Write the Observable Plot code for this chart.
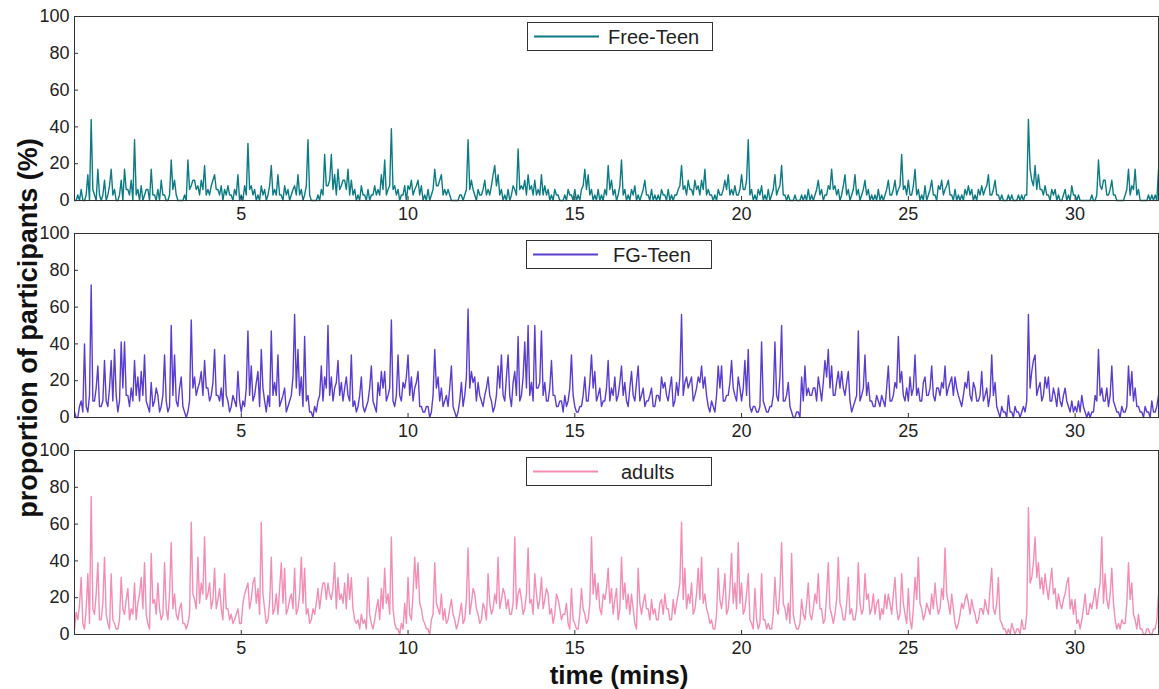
<!DOCTYPE html>
<html>
<head>
<meta charset="utf-8">
<script src="https://cdn.jsdelivr.net/npm/d3@7"></script>
<script src="https://cdn.jsdelivr.net/npm/@observablehq/plot@0.6"></script>
<style>
html,body{margin:0;padding:0;background:#fff;}
#chart{position:relative;width:1159px;height:689px;overflow:hidden;font-family:"Liberation Sans",Arial,sans-serif;color:#222;}
.panel{position:absolute;left:0;}
.legend{position:absolute;box-sizing:border-box;border:1px solid #333;background:#fff;height:29px;width:186px;}
.legend svg{position:absolute;left:0;top:0;}
.legend span{position:absolute;top:2px;font-size:20px;line-height:24px;color:#222;}
.ytitle{position:absolute;left:28px;top:328px;line-height:1;transform:translate(-50%,-50%) rotate(-90deg);font-weight:bold;font-size:27px;white-space:nowrap;color:#111;}
.xtitle{position:absolute;left:619px;top:675px;line-height:1;transform:translate(-50%,-50%);font-weight:bold;font-size:26px;white-space:nowrap;color:#111;}
</style>
</head>
<body>
<div id="chart"></div>
<script>
// time step between samples (minutes)
const timeStep = 0.05;
const xDomain = [0, 32.5];
const xTicks = [5, 10, 15, 20, 25, 30];
const yTicks = [0, 20, 40, 60, 80, 100];
const seriesNames = ["Free-Teen", "FG-Teen", "adults"];
const seriesColors = ["#0c7b84", "#5a3dcf", "#f48db4"];

const freeTeen = [
 0,0,3,0,6,0,0,3,14,0,44,6,3,0,17,3,0,3,11,0,
 3,8,17,3,6,0,0,3,11,0,17,6,6,3,11,0,33,3,6,0,
 8,0,3,6,6,0,17,3,3,0,6,0,11,3,3,0,0,3,22,6,
 11,3,0,0,0,0,3,0,22,6,8,11,11,6,8,3,11,6,19,3,
 6,3,8,11,14,6,6,3,8,0,6,3,8,3,3,0,6,3,14,0,
 3,0,8,3,31,6,8,3,6,0,3,0,8,3,6,0,3,8,19,3,
 6,3,14,3,3,0,8,3,6,0,3,6,8,3,14,3,6,0,3,8,
 33,3,0,0,0,0,3,0,6,3,25,8,8,11,25,6,14,3,17,6,
 8,11,11,6,17,3,11,3,6,0,3,0,8,3,3,0,6,0,3,3,
 8,3,6,3,14,6,22,3,6,8,39,6,8,3,6,0,3,3,8,0,
 8,6,11,3,6,8,11,3,8,0,3,0,6,0,3,6,17,8,8,11,
 14,3,6,3,6,3,0,0,0,0,0,3,3,0,3,6,33,6,11,6,
 3,0,6,3,3,6,11,3,6,3,8,14,19,8,14,3,6,0,3,0,
 6,0,3,8,6,3,28,6,8,6,11,3,14,6,8,3,11,3,6,3,
 14,3,8,3,6,0,3,0,6,3,3,0,0,0,3,0,6,3,3,0,
 6,0,3,0,6,8,17,6,14,3,6,0,3,0,6,0,3,0,6,3,
 19,6,11,3,6,0,3,8,22,3,6,0,3,0,6,3,8,0,3,0,
 3,6,11,3,3,0,6,0,3,0,3,0,6,3,3,0,6,0,3,0,
 3,3,6,8,19,6,8,3,11,6,6,3,11,6,8,3,11,6,17,3,
 6,3,3,0,3,0,6,3,3,6,11,6,14,3,6,3,8,3,3,6,
 14,6,6,11,33,3,6,0,3,0,6,3,8,0,3,0,6,0,3,6,
 14,3,6,8,19,3,3,0,3,0,0,0,3,0,0,0,3,0,3,0,
 6,0,3,0,3,6,11,3,6,0,3,3,8,6,17,6,8,3,6,0,
 3,8,14,3,6,0,3,6,14,3,6,0,3,6,11,3,6,0,3,0,
 3,0,6,0,3,0,3,6,11,3,3,6,11,3,6,8,25,6,8,3,
 11,3,3,8,17,3,6,0,3,0,8,0,3,6,11,3,3,0,8,6,
 11,3,6,8,11,3,3,0,6,0,3,0,3,0,6,3,8,3,6,0,
 3,0,6,3,8,3,6,8,14,3,3,6,11,3,3,0,3,0,0,0,
 3,0,3,0,0,0,3,0,3,0,3,3,44,17,11,8,19,6,14,6,
 6,3,8,3,3,0,6,3,6,0,3,0,0,3,6,0,3,0,8,3,
 3,0,3,0,0,0,0,0,0,0,3,0,0,3,22,8,6,11,11,3,
 3,6,11,3,3,0,0,0,0,0,3,6,17,3,8,6,17,3,6,0,
 0,0,0,0,3,0,3,0,3,0,17
];

const fgTeen = [
 3,0,0,6,9,3,40,6,3,12,72,9,9,16,28,6,6,9,31,9,
 6,16,31,9,37,12,3,9,41,16,41,12,12,6,16,9,31,12,22,9,
 25,12,34,9,6,3,19,6,9,16,12,3,6,12,34,9,3,6,50,12,
 34,9,6,16,22,6,3,0,3,9,53,16,22,12,16,19,25,12,31,16,
 16,9,12,19,37,12,12,9,16,6,34,12,9,3,6,12,9,6,25,9,
 3,9,6,16,47,12,28,9,12,19,25,6,37,16,9,3,12,6,47,12,
 19,12,34,6,9,12,16,3,6,9,12,22,56,16,37,12,22,6,44,9,
 12,3,3,0,6,3,9,12,28,9,22,16,50,12,22,9,16,19,31,12,
 19,9,16,22,12,9,34,6,9,3,6,12,22,6,3,6,9,16,28,9,
 6,3,19,12,25,16,25,9,12,16,53,9,6,12,34,12,9,19,16,22,
 34,12,22,9,16,19,25,6,6,3,3,6,6,0,3,12,37,16,22,9,
 16,6,9,12,6,16,28,6,3,0,3,9,19,6,12,22,59,16,25,19,
 22,9,19,12,9,6,12,16,22,12,9,3,6,12,28,16,34,12,9,22,
 34,12,6,19,25,12,44,9,12,22,41,16,50,12,19,9,50,16,16,19,
 47,12,19,9,9,16,31,12,12,6,6,9,9,3,12,6,9,16,34,12,
 6,3,3,6,6,12,22,9,9,19,34,16,25,9,12,16,6,9,9,16,
 31,9,16,12,22,9,12,19,28,12,19,9,6,16,25,12,9,19,28,9,
 12,16,6,9,9,12,16,6,6,12,12,9,22,16,19,12,9,16,22,6,
 9,19,12,22,56,12,19,22,16,19,22,9,12,16,22,19,28,16,22,12,
 6,3,9,6,3,12,28,16,28,9,9,12,12,19,31,16,12,9,22,16,
 9,16,31,12,37,6,3,6,6,3,3,6,41,9,6,3,3,6,6,12,
 41,12,9,22,50,9,9,12,19,6,3,0,0,3,3,0,22,9,28,12,
 16,12,12,16,16,9,22,16,9,19,31,22,37,16,28,12,12,19,25,16,
 25,16,12,19,25,9,3,6,9,12,47,9,12,16,34,12,19,9,9,6,
 6,12,9,6,12,9,6,16,28,9,9,12,19,16,44,19,25,12,9,16,
 9,22,12,16,34,12,16,9,9,19,22,12,12,16,28,12,9,16,16,12,
 19,16,28,12,16,19,22,12,22,16,12,9,6,12,19,16,25,12,9,19,
 16,9,9,12,25,9,12,16,6,12,34,12,19,6,3,0,6,3,3,0,
 12,3,3,0,6,3,3,0,3,6,3,9,56,16,25,31,34,12,16,19,
 9,12,22,16,22,9,9,16,12,6,16,9,6,12,16,9,6,3,9,3,
 6,3,9,3,12,6,3,0,3,0,3,3,12,9,37,12,16,9,9,16,
 6,12,28,9,6,3,3,0,6,3,3,6,28,12,25,9,16,6,6,3,
 3,0,6,3,3,0,9,3,3,6,12
];

const adults = [
 3,12,8,16,31,6,3,14,33,6,75,14,11,22,39,8,8,17,42,11,
 6,3,33,8,6,3,3,8,31,14,11,19,25,8,14,11,28,8,17,22,
 31,14,39,11,6,3,44,17,19,11,28,14,8,11,39,14,8,22,50,14,
 22,11,8,14,17,6,6,3,6,11,61,22,19,14,42,17,28,22,53,19,
 22,28,14,19,36,14,19,25,14,8,33,14,14,8,11,6,8,11,14,6,
 6,17,22,25,28,14,19,28,31,17,25,11,61,22,14,6,8,17,42,11,
 14,22,11,25,39,17,36,11,14,19,22,14,36,11,14,22,42,17,36,11,
 14,6,8,14,11,17,25,14,22,28,28,19,28,22,19,25,39,14,31,19,
 22,17,28,14,33,19,31,14,8,6,8,3,11,6,8,3,31,11,6,3,
 8,14,19,8,25,14,36,17,22,11,53,14,6,3,3,0,6,3,17,6,
 31,11,8,22,42,25,39,17,14,8,6,3,3,0,8,11,39,17,14,11,
 22,8,14,6,8,14,19,11,8,3,6,11,17,6,8,19,47,11,17,25,
 22,14,11,6,8,17,14,8,33,17,11,14,22,17,42,14,19,25,22,14,
 19,11,11,17,53,14,22,25,19,11,14,22,47,17,19,11,33,22,14,19,
 31,14,19,25,22,11,14,6,11,22,19,14,8,11,11,17,6,3,25,8,
 6,3,3,11,25,14,11,6,8,17,53,22,33,19,28,14,11,22,19,25,
 36,17,25,11,19,25,8,14,42,19,28,14,22,11,22,14,6,3,36,17,
 11,17,22,14,14,8,19,11,14,8,8,17,19,11,22,14,14,8,8,19,
 11,17,22,28,61,19,36,14,22,17,28,11,14,22,36,19,42,17,22,14,
 11,6,8,3,3,11,36,19,14,22,33,11,14,25,44,17,28,14,50,17,
 28,11,14,22,33,8,6,3,25,8,3,6,33,8,8,3,6,3,3,11,
 31,14,11,25,50,17,14,8,17,6,44,11,6,3,3,6,19,11,8,17,
 28,11,8,14,22,17,33,14,14,6,8,22,39,14,11,6,11,19,42,17,
 14,8,8,17,31,11,14,8,8,14,39,17,11,14,33,19,22,11,14,22,
 11,17,19,8,14,11,22,14,22,17,11,22,31,14,8,11,33,17,11,6,
 25,8,3,14,31,19,42,17,14,8,11,17,14,11,22,14,28,17,11,14,
 25,19,47,22,17,11,22,14,6,3,6,11,17,14,19,22,17,11,19,14,
 11,6,8,14,14,11,19,14,11,25,36,14,11,17,31,8,6,3,3,0,
 3,0,6,3,0,3,3,0,8,3,3,11,69,28,31,39,53,31,39,25,
 31,22,33,25,19,28,36,22,25,14,22,17,14,19,22,28,31,14,19,11,
 19,6,8,3,8,14,22,11,11,17,14,19,25,14,22,28,53,17,33,19,
 14,22,36,17,8,3,6,3,8,6,6,17,39,19,28,11,8,3,11,3,
 3,0,0,3,3,0,0,3,3,8,22
];

const seriesValues = [freeTeen, fgTeen, adults];

const chart = document.getElementById("chart");
const panelTops = [8, 225, 442];
const legendBoxes = [
  {left: 527, top: 22, textLeft: 80},
  {left: 526, top: 240, textLeft: 86},
  {left: 526, top: 457, textLeft: 94}
];

seriesValues.forEach((values, k) => {
  const data = values.map((v, i) => ({time: +(i * timeStep).toFixed(3), value: v}));
  const svg = Plot.plot({
    width: 1159,
    height: 217,
    marginLeft: 74,
    marginRight: 1,
    marginTop: 8,
    marginBottom: 25,
    style: {fontFamily: "'Liberation Sans', Arial, sans-serif", fontSize: "18px", color: "#222", background: "transparent", overflow: "visible"},
    x: {domain: xDomain},
    y: {domain: [0, 100]},
    marks: [
      Plot.lineY(data, {x: "time", y: "value", stroke: seriesColors[k], strokeWidth: 1.4}),
      Plot.frame({stroke: "#333", strokeWidth: 1}),
      Plot.axisX({ticks: xTicks, tickSize: -4, tickPadding: 11, label: null, stroke: "#333", tickFormat: d => String(d)}),
      Plot.axisY({ticks: yTicks, tickSize: -4, tickPadding: 9, label: null, stroke: "#333", tickFormat: d => String(d)})
    ]
  });
  const div = document.createElement("div");
  div.className = "panel";
  div.style.top = panelTops[k] + "px";
  div.appendChild(svg);
  chart.appendChild(div);

  const lb = legendBoxes[k];
  const leg = document.createElement("div");
  leg.className = "legend";
  leg.style.left = lb.left + "px";
  leg.style.top = lb.top + "px";
  leg.innerHTML = `<svg width="186" height="29"><line x1="6" x2="71" y1="13.5" y2="13.5" stroke="${seriesColors[k]}" stroke-width="2.2"/></svg><span style="left:${lb.textLeft}px">${seriesNames[k]}</span>`;
  chart.appendChild(leg);
});

const yt = document.createElement("div");
yt.className = "ytitle";
yt.textContent = "proportion of participants (%)";
chart.appendChild(yt);

const xt = document.createElement("div");
xt.className = "xtitle";
xt.textContent = "time (mins)";
chart.appendChild(xt);
</script>
</body>
</html>
